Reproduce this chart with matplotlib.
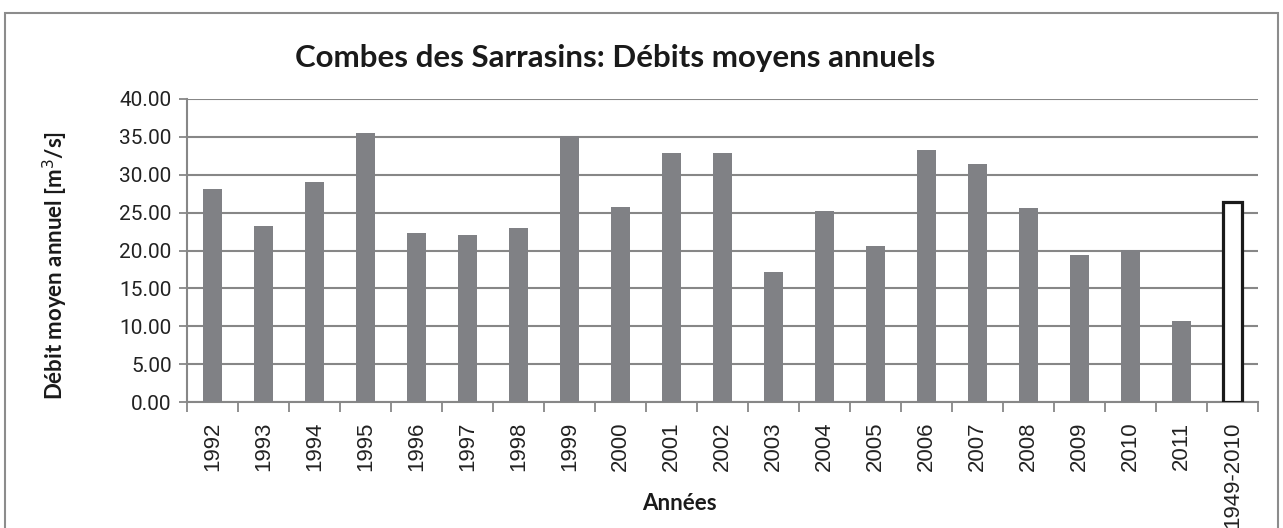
import matplotlib.pyplot as plt
from matplotlib.patches import Rectangle
import numpy as np

# annual mean discharge values (m3/s)
years = ['1992', '1993', '1994', '1995', '1996', '1997', '1998', '1999', '2000', '2001',
         '2002', '2003', '2004', '2005', '2006', '2007', '2008', '2009', '2010', '2011']
debits = [28.1, 23.2, 29.0, 35.5, 22.3, 22.0, 23.0, 35.1, 25.8, 32.9,
          32.9, 17.2, 25.2, 20.6, 33.3, 31.4, 25.6, 19.4, 20.1, 10.7]
periode_label = '1949-2010'
periode_moyenne = 26.4

labels = years + [periode_label]
grid_col = '#878787'
W, H = 1283, 528

fig = plt.figure(figsize=(W / 100, H / 100), dpi=100)
ax = fig.add_axes([187/W, 1 - 402/H, (1258-187)/W, (402-99)/H])

x = np.arange(len(labels))
ax.bar(x[:-1], debits, width=0.39, color='#808185', zorder=3)
ax.bar(x[-1], periode_moyenne, width=0.39, facecolor='white', edgecolor='#1a1a1a',
       linewidth=2.3, zorder=3)

ax.set_xlim(-0.5, len(labels) - 0.5)
ax.set_ylim(0, 40)
yt = np.arange(0, 40.1, 5)
ax.set_yticks(yt)
ax.set_yticklabels([f'{v:.2f}' for v in yt], fontsize=15, family='Roboto', color='#222222')
ax.yaxis.grid(True, color=grid_col, linewidth=1.5, zorder=0)

ax.set_xticks(x)
ax.set_xticklabels(labels, rotation=90, fontsize=16, family='Liberation Sans',
                   color='#222222')
ax.set_xticks(np.arange(-0.5, len(labels), 1), minor=True)
ax.tick_params(axis='x', which='major', length=0, pad=14)
ax.tick_params(axis='x', which='minor', length=7, color=grid_col, width=1.3)
ax.tick_params(axis='y', length=6, color=grid_col, width=1.3, pad=5)

for side in ['top', 'right']:
    ax.spines[side].set_visible(False)
for side in ['left', 'bottom']:
    ax.spines[side].set_color(grid_col)
    ax.spines[side].set_linewidth(1.5)

# title and axis labels placed in pixel positions of the original
fig.text(615/W, 1 - 58/H, 'Combes des Sarrasins: Débits moyens annuels', fontsize=22.5,
         fontweight='bold', family='Lato', ha='center', va='center', color='#1a1a1a')
fig.text(55/W, 1 - 265/H, 'Débit moyen annuel [m$^3$/s]', fontsize=16, fontweight='bold',
         family='Lato', rotation=90, ha='center', va='center', color='#1a1a1a')
fig.text(679/W, 1 - 503/H, 'Années', fontsize=16, fontweight='bold', family='Lato',
         ha='center', va='center', color='#1a1a1a')

# chart border
fig.patches.append(Rectangle((5/W, -0.1), (1278-5)/W, 1.1 - 13/H,
                             transform=fig.transFigure, fill=False,
                             edgecolor='#8c8c8c', linewidth=1.5))

fig.savefig('out.png', dpi=100)
